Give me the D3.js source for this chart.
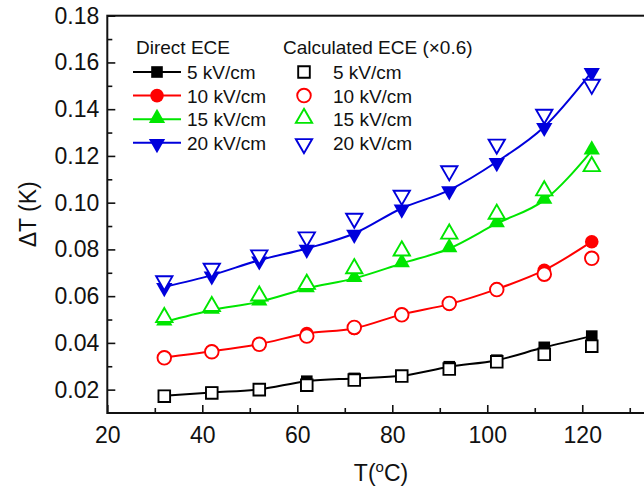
<!DOCTYPE html>
<meta charset="utf-8">
<style type="text/css">
  body {
    margin: 0;
    background: #fff;
    font-family: "Liberation Sans", Arial, sans-serif;
  }

  .axis text {
    font: 23px "Liberation Sans", Arial, sans-serif;
    fill: #111;
  }

  .axis line {
    stroke: #111;
    stroke-width: 1.6px;
  }

  .axis path {
    display: none;
  }
</style>
<body>
</body>
<script src="https://d3js.org/d3.v7.min.js"></script>
<script>
  // temperatures (deg C)
  var temps = [32, 42, 52, 62, 72, 82, 92, 102, 112, 122];

  // direct ECE, filled markers + line
  var direct5 = [0.0174, 0.0188, 0.0201, 0.0236, 0.0248, 0.0259, 0.0298, 0.0326, 0.0381, 0.0429];
  var direct10 = [0.0338, 0.0364, 0.0395, 0.0440, 0.0462, 0.0522, 0.0566, 0.0630, 0.0711, 0.0833];
  var direct15 = [0.0490, 0.0540, 0.0576, 0.0633, 0.0676, 0.0740, 0.0804, 0.0911, 0.1011, 0.1222];
  var direct20 = [0.0640, 0.0690, 0.0754, 0.0804, 0.0868, 0.0976, 0.1054, 0.1175, 0.1325, 0.1560];

  // calculated ECE (x0.6), open markers
  var calc5 = [0.0172, 0.0186, 0.0200, 0.0219, 0.0241, 0.0258, 0.0288, 0.0319, 0.0351, 0.0386];
  var calc10 = [0.0336, 0.0362, 0.0394, 0.0429, 0.0466, 0.0520, 0.0569, 0.0628, 0.0694, 0.0762];
  var calc15 = [0.0505, 0.0552, 0.0597, 0.0647, 0.0714, 0.0790, 0.0862, 0.0947, 0.1047, 0.1151];
  var calc20 = [0.0669, 0.0723, 0.0780, 0.0857, 0.0937, 0.1035, 0.1140, 0.1254, 0.1382, 0.1510];

  var fieldLabels = ["5 kV/cm", "10 kV/cm", "15 kV/cm", "20 kV/cm"];
  var xTicks = [20, 40, 60, 80, 100, 120];
  var yTicks = [0.02, 0.04, 0.06, 0.08, 0.10, 0.12, 0.14, 0.16, 0.18];

  var series = [
    {label: fieldLabels[0], direct: direct5, calc: calc5, color: "#000000", shape: "square"},
    {label: fieldLabels[1], direct: direct10, calc: calc10, color: "#ff0000", shape: "circle"},
    {label: fieldLabels[2], direct: direct15, calc: calc15, color: "#00e600", shape: "up"},
    {label: fieldLabels[3], direct: direct20, calc: calc20, color: "#0000dc", shape: "down"}
  ];

  var W = 644, H = 495;
  var plotL = 107.3, plotT = 15.7, plotB = 413, plotR = 653.5;

  var x = d3.scaleLinear().domain([20, 135]).range([plotL, plotR]);
  var y = d3.scaleLinear().domain([0.01, 0.18]).range([plotB, plotT]);

  var svg = d3.select("body").append("svg")
    .attr("width", W)
    .attr("height", H);

  // marker path generator
  function markerPath(shape) {
    if (shape === "square") return d3.symbol().type(d3.symbolSquare).size(135)();
    if (shape === "circle") return d3.symbol().type(d3.symbolCircle).size(145)();
    return d3.symbol().type(d3.symbolTriangle).size(115)();
  }
  function markerTransform(shape, px, py) {
    if (shape === "up") return "translate(" + px + "," + (py - 1) + ")";
    if (shape === "down") return "translate(" + px + "," + (py + 1) + ") rotate(180)";
    return "translate(" + px + "," + py + ")";
  }

  // axes: major + minor ticks pointing inward
  svg.append("g")
    .attr("class", "axis")
    .attr("transform", "translate(0," + plotB + ")")
    .call(d3.axisBottom(x).tickValues(xTicks).tickSizeInner(-8).tickSizeOuter(0).tickPadding(14)
      .tickFormat(d3.format("d")));

  svg.append("g")
    .attr("class", "axis")
    .attr("transform", "translate(0," + plotB + ")")
    .call(d3.axisBottom(x).tickValues([30, 50, 70, 90, 110, 130]).tickSizeInner(-5).tickSizeOuter(0)
      .tickFormat(""));

  svg.append("g")
    .attr("class", "axis")
    .attr("transform", "translate(" + plotL + ",0)")
    .call(d3.axisLeft(y).tickValues(yTicks).tickSizeInner(-8).tickSizeOuter(0).tickPadding(8)
      .tickFormat(d3.format(".2f")));

  svg.append("g")
    .attr("class", "axis")
    .attr("transform", "translate(" + plotL + ",0)")
    .call(d3.axisLeft(y).tickValues([0.03, 0.05, 0.07, 0.09, 0.11, 0.13, 0.15, 0.17]).tickSizeInner(-5)
      .tickSizeOuter(0).tickFormat(""));

  // frame
  svg.append("rect")
    .attr("x", plotL)
    .attr("y", plotT)
    .attr("width", plotR - plotL)
    .attr("height", plotB - plotT)
    .style("fill", "none")
    .style("stroke", "#111")
    .style("stroke-width", 2);

  // axis titles
  svg.append("text")
    .attr("transform", "translate(36," + ((plotT + plotB) / 2) + ") rotate(-90)")
    .style("text-anchor", "middle")
    .style("font-size", "23px")
    .style("fill", "#111")
    .text("\u0394T (K)");

  var xt = svg.append("text")
    .attr("x", 381)
    .attr("y", 481)
    .style("text-anchor", "middle")
    .style("font-size", "23px")
    .style("fill", "#111");
  xt.append("tspan").text("T(");
  xt.append("tspan").attr("dy", -9).style("font-size", "15px").text("o");
  xt.append("tspan").attr("dy", 9).text("C)");

  // lines for direct ECE
  var line = d3.line()
    .x(function(d) { return x(d[0]); })
    .y(function(d) { return y(d[1]); })
    .curve(d3.curveMonotoneX);

  series.forEach(function(s) {
    var pts = temps.map(function(t, i) { return [t, s.direct[i]]; });
    svg.append("path")
      .datum(pts)
      .attr("d", line)
      .style("fill", "none")
      .style("stroke", s.color)
      .style("stroke-width", 2);
  });

  // filled markers
  series.forEach(function(s) {
    svg.append("g").selectAll("path")
      .data(temps.map(function(t, i) { return [t, s.direct[i]]; }))
      .enter().append("path")
      .attr("d", markerPath(s.shape))
      .attr("transform", function(d) { return markerTransform(s.shape, x(d[0]), y(d[1])); })
      .style("fill", s.color);
  });

  // open markers
  series.forEach(function(s) {
    svg.append("g").selectAll("path")
      .data(temps.map(function(t, i) { return [t, s.calc[i]]; }))
      .enter().append("path")
      .attr("d", markerPath(s.shape))
      .attr("transform", function(d) { return markerTransform(s.shape, x(d[0]), y(d[1])); })
      .style("fill", "#fff")
      .style("stroke", s.color)
      .style("stroke-width", 1.9);
  });

  // legend
  var legend = svg.append("g").style("font-size", "19px").style("fill", "#111");
  legend.append("text").attr("x", 136).attr("y", 54).text("Direct ECE");
  legend.append("text").attr("x", 283).attr("y", 54).text("Calculated ECE (\u00d70.6)");

  series.forEach(function(s, i) {
    var cy = 72 + i * 23.6;
    legend.append("line")
      .attr("x1", 133).attr("x2", 181)
      .attr("y1", cy).attr("y2", cy)
      .style("stroke", s.color)
      .style("stroke-width", 2);
    legend.append("path")
      .attr("d", markerPath(s.shape))
      .attr("transform", markerTransform(s.shape, 157, cy))
      .style("fill", s.color);
    legend.append("text").attr("x", 187).attr("y", cy + 7).text(s.label);

    legend.append("path")
      .attr("d", markerPath(s.shape))
      .attr("transform", markerTransform(s.shape, 304, cy))
      .style("fill", "#fff")
      .style("stroke", s.color)
      .style("stroke-width", 1.9);
    legend.append("text").attr("x", 333).attr("y", cy + 7).text(s.label);
  });
</script>
